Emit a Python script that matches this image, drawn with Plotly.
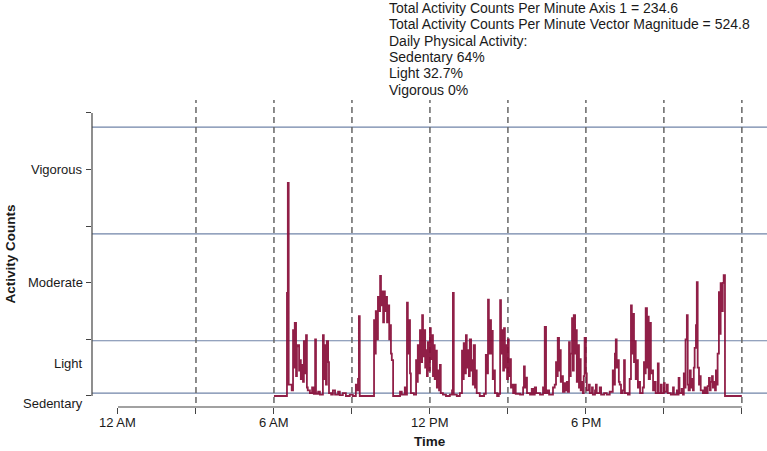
import plotly.graph_objects as go

# ---------------- data (minutes since midnight, activity counts) ----------------
minutes = [
    360, 390, 392, 394, 396, 401, 404, 406, 408, 411, 413, 415, 418, 420, 422, 425, 427, 429, 432, 434,
    436, 438, 443, 448, 452, 455, 457, 462, 466, 473, 475, 477, 480, 482, 485, 487, 492, 496, 501, 508,
    512, 519, 526, 535, 542, 549, 552, 554, 556, 558, 591, 593, 595, 598, 600, 602, 605, 607, 609, 612,
    614, 616, 619, 621, 623, 626, 628, 630, 632, 635, 651, 655, 662, 665, 667, 669, 671, 674, 676, 683,
    688, 690, 692, 695, 697, 699, 702, 704, 706, 709, 711, 713, 715, 718, 720, 722, 724, 727, 729, 731,
    734, 736, 738, 741, 743, 745, 750, 757, 766, 771, 773, 775, 782, 789, 794, 796, 798, 801, 803, 805,
    808, 810, 812, 815, 817, 819, 821, 824, 826, 828, 835, 845, 849, 851, 854, 856, 858, 861, 863, 865,
    868, 870, 875, 879, 882, 884, 886, 889, 891, 893, 895, 898, 900, 902, 905, 907, 909, 912, 916, 918,
    928, 935, 937, 939, 942, 944, 951, 955, 958, 962, 965, 974, 981, 983, 985, 988, 992, 995, 1004, 1008,
    1011, 1013, 1015, 1018, 1020, 1022, 1024, 1027, 1031, 1034, 1036, 1038, 1041, 1043, 1045, 1048, 1050, 1052, 1055, 1057,
    1059, 1061, 1064, 1066, 1068, 1071, 1073, 1075, 1077, 1080, 1082, 1087, 1089, 1094, 1096, 1101, 1103, 1105, 1112, 1115,
    1122, 1128, 1135, 1142, 1145, 1147, 1149, 1151, 1154, 1156, 1158, 1161, 1165, 1168, 1170, 1177, 1181, 1184, 1186, 1188,
    1191, 1193, 1195, 1198, 1200, 1202, 1205, 1211, 1214, 1216, 1218, 1221, 1223, 1225, 1228, 1230, 1232, 1235, 1239, 1241,
    1246, 1248, 1253, 1255, 1260, 1262, 1267, 1269, 1276, 1281, 1283, 1290, 1292, 1294, 1296, 1301, 1304, 1306, 1308, 1310,
    1313, 1315, 1317, 1320, 1322, 1324, 1327, 1329, 1331, 1334, 1336, 1338, 1341, 1343, 1345, 1350, 1354, 1357, 1361, 1364,
    1366, 1368, 1371, 1373, 1375, 1378, 1380, 1382, 1384, 1387, 1389, 1391, 1394, 1396, 1398, 1401, 1440,
]
counts = [
    0, 3640, 7530, 400, 400, 200, 2330, 1000, 2580, 700, 1750, 1800, 900, 1270, 600, 1100, 500, 1940, 800, 2150,
    300, 200, 100, 300, 80, 2000, 80, 150, 50, 2150, 600, 1800, 400, 1940, 1200, 100, 50, 200, 50, 150,
    30, 100, 0, 50, 0, 400, 200, 600, 2820, 0, 2680, 1500, 3000, 2000, 3500, 3000, 4240, 3200, 3700, 2600,
    3700, 3000, 3500, 2600, 3200, 2000, 2500, 1500, 1270, 0, 150, 50, 300, 50, 3300, 1500, 2680, 800, 100, 50,
    1270, 500, 1800, 800, 2330, 1200, 2860, 1400, 2330, 1000, 1620, 700, 1900, 900, 2400, 1300, 2150, 700, 1800, 600,
    1600, 300, 900, 200, 1100, 100, 50, 0, 50, 200, 3640, 50, 0, 100, 1600, 600, 1870, 800, 2150, 1000,
    1620, 700, 2000, 900, 1270, 400, 1800, 300, 900, 100, 0, 80, 1450, 800, 3400, 1500, 2680, 1500, 2300, 600,
    900, 100, 0, 80, 3390, 1500, 2330, 900, 2400, 1000, 1800, 600, 2000, 700, 1300, 300, 400, 100, 400, 80,
    50, 300, 1050, 300, 650, 100, 50, 250, 50, 300, 100, 50, 300, 100, 2440, 100, 200, 50, 300, 400,
    1200, 700, 2050, 900, 1620, 500, 700, 150, 450, 200, 500, 150, 1900, 700, 1500, 2750, 900, 2860, 1500, 2330,
    500, 1800, 300, 1300, 200, 500, 100, 700, 2050, 800, 200, 400, 100, 300, 50, 200, 400, 100, 300, 50,
    100, 50, 150, 900, 400, 1500, 2000, 1000, 1270, 500, 400, 100, 200, 1270, 100, 50, 600, 3200, 1500, 2900,
    1200, 1940, 600, 1270, 300, 500, 100, 300, 1200, 800, 3100, 1000, 2800, 600, 2580, 800, 900, 200, 500, 100,
    1150, 100, 400, 100, 450, 150, 400, 100, 50, 300, 50, 200, 50, 640, 100, 250, 50, 800, 300, 2000,
    2860, 400, 200, 900, 300, 600, 200, 1000, 1700, 2500, 4020, 1000, 400, 700, 200, 100, 300, 100, 350, 640,
    200, 500, 700, 300, 500, 200, 900, 400, 1500, 3670, 2200, 3990, 3000, 4000, 4270, 0, 0,
]

cutpoints = [100, 1952, 5725, 9499]
y_ticks = [0, 2000, 4000, 6000, 8000, 10000]
intensity_labels = ["Sedentary", "Light", "Moderate", "Vigorous"]
intensity_label_pos = [-280, 1150, 4000, 8000]
x_ticks = [0, 180, 360, 540, 720, 900, 1080, 1260, 1440]
x_labels = ["12 AM", "6 AM", "12 PM", "6 PM"]
x_label_pos = [0, 360, 720, 1080]
guide_times = [180, 360, 540, 720, 900, 1080, 1260, 1440]
summary_lines = [
    "Total Activity Counts Per Minute Axis 1 = 234.6",
    "Total Activity Counts Per Minute Vector Magnitude = 524.8",
    "Daily Physical Activity:",
    "Sedentary 64%",
    "Light 32.7%",
    "Vigorous 0%",
]

FONT = "Liberation Sans, Arial, Helvetica, sans-serif"
TXT = "#1a1a1a"
X_RANGE = [-60, 1498]
Y_RANGE = [-389, 10459]

fig = go.Figure()

shapes = []
for c in cutpoints:
    shapes.append(dict(type="line", xref="paper", yref="y", x0=0, x1=1, y0=c, y1=c,
                       line=dict(color="rgb(112,132,168)", width=1.2), layer="below"))
for t in guide_times:
    shapes.append(dict(type="line", xref="x", yref="y", x0=t, x1=t, y0=-250, y1=Y_RANGE[1],
                       line=dict(color="#666666", width=1.5, dash="6px,4px"), layer="below"))
shapes.append(dict(type="line", xref="paper", yref="y", x0=0, x1=0, y0=0, y1=10000,
                   line=dict(color="#444", width=1.2)))
shapes.append(dict(type="line", xref="x", yref="paper", x0=0, x1=1440, y0=0, y1=0,
                   line=dict(color="#444", width=1.2)))

fig.add_trace(go.Scatter(
    x=minutes, y=counts, mode="lines", line_shape="hv",
    line=dict(color="rgba(135,12,55,0.92)", width=1.8),
    hoverinfo="skip", showlegend=False,
))

annotations = []
for lab, pos in zip(intensity_labels, intensity_label_pos):
    annotations.append(dict(text=lab, xref="paper", yref="y", x=0, y=pos, xanchor="right",
                            yanchor="middle", xshift=-7, showarrow=False,
                            font=dict(size=13, color=TXT, family=FONT)))
for lab, pos in zip(x_labels, x_label_pos):
    annotations.append(dict(text=lab, xref="x", yref="paper", x=pos, y=0, xanchor="center",
                            yanchor="middle", yshift=-15, showarrow=False,
                            font=dict(size=13, color=TXT, family=FONT)))
annotations.append(dict(text="<b>Activity Counts</b>", xref="paper", yref="y", x=0, y=5000,
                        xanchor="center", yanchor="middle", xshift=-82, textangle=-90,
                        showarrow=False, font=dict(size=13.5, color=TXT, family=FONT)))
annotations.append(dict(text="<b>Time</b>", xref="x", yref="paper", x=720, y=0,
                        xanchor="center", yanchor="middle", yshift=-34, showarrow=False,
                        font=dict(size=13.5, color=TXT, family=FONT)))
line_centers = [8, 24, 41, 57, 73, 90]  # pixel rows of the summary lines
for txt, cy in zip(summary_lines, line_centers):
    annotations.append(dict(text=txt, xref="paper", yref="paper", x=(387 - 92) / 675, y=1,
                            xanchor="left", yanchor="middle", yshift=100 - cy,
                            align="left", showarrow=False,
                            font=dict(size=14, color=TXT, family=FONT)))

fig.update_layout(
    width=767, height=451,
    margin=dict(l=92, r=0, t=100, b=44),
    paper_bgcolor="white", plot_bgcolor="white",
    font=dict(family=FONT, size=13, color=TXT),
    shapes=shapes, annotations=annotations,
    xaxis=dict(range=X_RANGE, showgrid=False, zeroline=False, showline=False,
               tickmode="array", tickvals=x_ticks, ticktext=[""] * len(x_ticks),
               ticks="outside", ticklen=6, tickcolor="#444", tickwidth=1.2),
    yaxis=dict(range=Y_RANGE, showgrid=False, zeroline=False, showline=False,
               tickmode="array", tickvals=y_ticks, ticktext=[""] * len(y_ticks),
               ticks="outside", ticklen=5, tickcolor="#444", tickwidth=1.2),
)

fig.write_html(
    "out.html",
    config={"displayModeBar": False},
    post_script="document.body.style.margin='0';document.body.style.overflow='hidden';",
)
